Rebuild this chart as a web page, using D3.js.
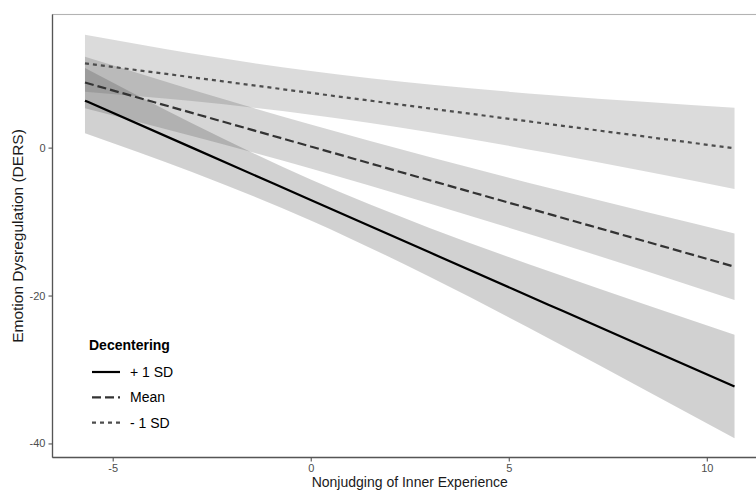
<!DOCTYPE html>
<html>
<head>
<meta charset="utf-8">
<script src="https://cdn.jsdelivr.net/npm/d3@7"></script>
<style>
  html, body { margin: 0; padding: 0; background: #ffffff; }
  svg { display: block; font-family: "Liberation Sans", Arial, Helvetica, sans-serif; }
</style>
</head>
<body>
<svg id="chart" width="756" height="491"></svg>
<script>
// Nonjudging values at which fitted lines and 95% bands are evaluated
const nonjudging = [-5.7, -3, 0, 3, 6, 8.5, 10.7];

// Decentering levels (legend order)
const levels = ["+ 1 SD", "Mean", "- 1 SD"];

// Fitted DERS values for each level
const fitHigh = [6.35, 0.0, -7.08, -14.16, -21.23, -27.12, -32.30];
const fitMean = [8.80, 4.70, 0.15, -4.41, -8.96, -12.75, -16.10];
const fitLow  = [11.40, 9.51, 7.40, 5.30, 3.20, 1.45, -0.10];

// Lower / upper confidence limits
const lowerHigh = [1.95, -3.31, -9.84, -17.46, -25.77, -32.93, -39.30];
const upperHigh = [10.75, 3.29, -4.32, -10.86, -16.69, -21.31, -25.30];
const lowerMean = [5.32, 1.57, -2.83, -7.54, -12.49, -16.76, -20.60];
const upperMean = [12.28, 7.83, 3.13, -1.28, -5.43, -8.74, -11.60];
const lowerLow  = [7.55, 6.29, 4.45, 2.08, -0.73, -3.27, -5.60];
const upperLow  = [15.25, 12.73, 10.35, 8.52, 7.13, 6.17, 5.40];

// Axis ticks
const xTicks = [-5, 0, 5, 10];
const yTicks = [0, -20, -40];

const series = [
  { name: levels[0], fit: fitHigh, lo: lowerHigh, hi: upperHigh, color: "#000000", dash: null, band: 0.18 },
  { name: levels[1], fit: fitMean, lo: lowerMean, hi: upperMean, color: "#333333", dash: "9,4", band: 0.2 },
  { name: levels[2], fit: fitLow,  lo: lowerLow,  hi: upperLow,  color: "#4d4d4d", dash: "4,4", band: 0.2 }
];

const svg = d3.select("#chart");
const panel = { left: 52.5, top: 14.5, right: 767, bottom: 457.5 };

const x = d3.scaleLinear().domain([-6.52, 11.52]).range([panel.left, panel.right]);
const y = d3.scaleLinear().domain([-41.9, 18.0]).range([panel.bottom, panel.top]);

// panel border
svg.append("rect")
  .attr("x", panel.left).attr("y", panel.top)
  .attr("width", panel.right - panel.left).attr("height", panel.bottom - panel.top)
  .attr("fill", "none").attr("stroke", "#b3b3b3").attr("stroke-width", 1.1);

// confidence bands
const area = d3.area()
  .x((d, i) => x(nonjudging[i]))
  .y0(d => y(d[0]))
  .y1(d => y(d[1]))
  .curve(d3.curveMonotoneX);

series.forEach(s => {
  svg.append("path")
    .datum(s.lo.map((v, i) => [v, s.hi[i]]))
    .attr("d", area)
    .attr("fill", s.color)
    .attr("fill-opacity", s.band);
});

// fitted lines
const line = d3.line()
  .x((d, i) => x(nonjudging[i]))
  .y(d => y(d))
  .curve(d3.curveMonotoneX);

series.forEach(s => {
  svg.append("path")
    .datum(s.fit)
    .attr("d", line)
    .attr("fill", "none")
    .attr("stroke", s.color)
    .attr("stroke-width", 2.2)
    .attr("stroke-dasharray", s.dash);
});

// axes
const xAxis = svg.append("g")
  .attr("transform", `translate(0,${panel.bottom})`)
  .call(d3.axisBottom(x).tickValues(xTicks).tickSize(4).tickSizeOuter(0).tickPadding(3).tickFormat(d3.format("d")));
const yAxis = svg.append("g")
  .attr("transform", `translate(${panel.left},0)`)
  .call(d3.axisLeft(y).tickValues(yTicks).tickSize(4).tickSizeOuter(0).tickPadding(3).tickFormat(d3.format("d")));

[xAxis, yAxis].forEach(g => {
  g.select(".domain").attr("stroke", "#555555").attr("stroke-width", 1.3);
  g.selectAll(".tick line").attr("stroke", "#555555").attr("stroke-width", 1.1);
  g.selectAll(".tick text")
    .attr("fill", "#4d4d4d")
    .style("font-size", "11px")
    .style("font-family", "'Liberation Sans', Arial, sans-serif")
    .text(d => d < 0 ? "-" + Math.abs(d) : d);
});
xAxis.select(".domain").attr("d", `M${panel.left},0H${panel.right}`);
yAxis.select(".domain").attr("d", `M0,${panel.top}V${panel.bottom}`);

// axis titles
svg.append("text")
  .attr("x", (panel.left + panel.right) / 2)
  .attr("y", 487)
  .attr("text-anchor", "middle")
  .attr("fill", "#1a1a1a")
  .style("font-size", "14px")
  .text("Nonjudging of Inner Experience");

svg.append("text")
  .attr("transform", `translate(23,${(panel.top + panel.bottom) / 2}) rotate(-90)`)
  .attr("text-anchor", "middle")
  .attr("fill", "#1a1a1a")
  .style("font-size", "15.5px")
  .text("Emotion Dysregulation (DERS)");

// legend
const legend = svg.append("g").attr("transform", "translate(89,0)");
legend.append("text")
  .attr("x", 0).attr("y", 350)
  .attr("fill", "#000000")
  .style("font-size", "14px")
  .style("font-weight", "bold")
  .text("Decentering");

series.forEach((s, i) => {
  const cy = 372 + i * 25.3;
  legend.append("line")
    .attr("x1", 3).attr("x2", 31)
    .attr("y1", cy).attr("y2", cy)
    .attr("stroke", s.color)
    .attr("stroke-width", 2.2)
    .attr("stroke-dasharray", s.dash);
  legend.append("text")
    .attr("x", 41).attr("y", cy)
    .attr("dy", "0.35em")
    .attr("fill", "#000000")
    .style("font-size", "14px")
    .text(s.name);
});
</script>
</body>
</html>
